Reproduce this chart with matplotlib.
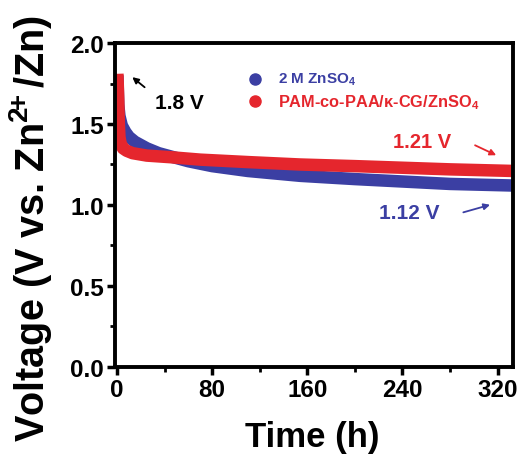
import matplotlib
matplotlib.use("Agg")
import matplotlib.pyplot as plt
from matplotlib.ticker import MultipleLocator

plt.rcParams["font.family"] = ["Liberation Sans", "DejaVu Sans"]
plt.rcParams["font.weight"] = "bold"
plt.rcParams["mathtext.fontset"] = "custom"
plt.rcParams["mathtext.rm"] = "Liberation Sans:bold"
plt.rcParams["mathtext.it"] = "Liberation Sans:bold"
plt.rcParams["mathtext.bf"] = "Liberation Sans:bold"

# galvanostatic voltage profiles (h, V)
t_zso = [0.3, 1, 2, 4, 7, 10, 15, 25, 35, 45, 60, 80, 110, 154, 200, 240, 280, 334]
v_zso = [1.80, 1.62, 1.55, 1.49, 1.45, 1.42, 1.39, 1.35, 1.32, 1.30, 1.27, 1.24, 1.21, 1.18, 1.16, 1.145, 1.13, 1.12]

t_gel = [0.3, 1, 1.5, 2, 3, 5, 8, 13, 25, 45, 70, 110, 154, 200, 240, 280, 334]
v_gel = [1.81, 1.65, 1.50, 1.42, 1.38, 1.35, 1.335, 1.32, 1.305, 1.295, 1.28, 1.265, 1.25, 1.24, 1.23, 1.22, 1.21]

blue = "#3b3fa3"
red = "#e5262d"

fig = plt.figure(figsize=(5.2, 4.56), dpi=100)
ax = fig.add_axes([0.221, 0.193, 0.7655, 0.7105])

ax.plot(t_zso, v_zso, color=blue, lw=9, solid_capstyle="butt")
ax.plot(t_gel, v_gel, color=red, lw=9, solid_capstyle="butt")

ax.set_xlim(-1.8, 333)
ax.set_ylim(0, 2.0)
ax.xaxis.set_major_locator(MultipleLocator(80))
ax.xaxis.set_minor_locator(MultipleLocator(40))
ax.yaxis.set_major_locator(MultipleLocator(0.5))
ax.yaxis.set_minor_locator(MultipleLocator(0.25))
ax.tick_params(which="major", direction="out", length=6, width=2.5, labelsize=17.5, pad=2)
ax.tick_params(which="minor", direction="out", length=3.5, width=2)
for s in ax.spines.values():
    s.set_linewidth(2.8)
for lab in ax.get_xticklabels() + ax.get_yticklabels():
    lab.set_fontweight("bold")

ax.set_xlabel("Time (h)", fontsize=25, fontweight="bold", va="center")
ax.xaxis.set_label_coords(0.495, -0.213)
ax.set_ylabel(r"Voltage (V vs. Zn$^{2\!\!+}$/Zn)", fontsize=28.5, fontweight="bold", va="center")
ax.yaxis.set_label_coords(-0.211, 0.43)

# legend drawn as marker + text
ax.plot([116], [1.78], "o", color=blue, ms=8)
ax.text(135, 1.78, r"2 M ZnSO$_4$", color=blue, fontsize=11, fontweight="bold", va="center")
ax.plot([116], [1.64], "o", color=red, ms=8)
ax.text(135, 1.64, r"PAM-co-PAA/κ-CG/ZnSO$_4$", color=red, fontsize=11.8, fontweight="bold", va="center")

# voltage callouts
ax.annotate("", xy=(11, 1.80), xytext=(25, 1.716),
            arrowprops=dict(arrowstyle="-|>", color="black", lw=1.3, mutation_scale=9))
ax.text(32, 1.63, "1.8 V", fontsize=15, fontweight="bold", color="black", va="center")

ax.text(232, 1.39, "1.21 V", fontsize=14.5, fontweight="bold", color=red, va="center")
ax.annotate("", xy=(321, 1.30), xytext=(299, 1.376),
            arrowprops=dict(arrowstyle="-|>", color=red, lw=1.3, mutation_scale=9))

ax.text(220, 0.955, "1.12 V", fontsize=15, fontweight="bold", color=blue, va="center")
ax.annotate("", xy=(316, 1.006), xytext=(289, 0.95),
            arrowprops=dict(arrowstyle="-|>", color=blue, lw=1.3, mutation_scale=9))

fig.savefig("out.png", dpi=100, facecolor="white")
